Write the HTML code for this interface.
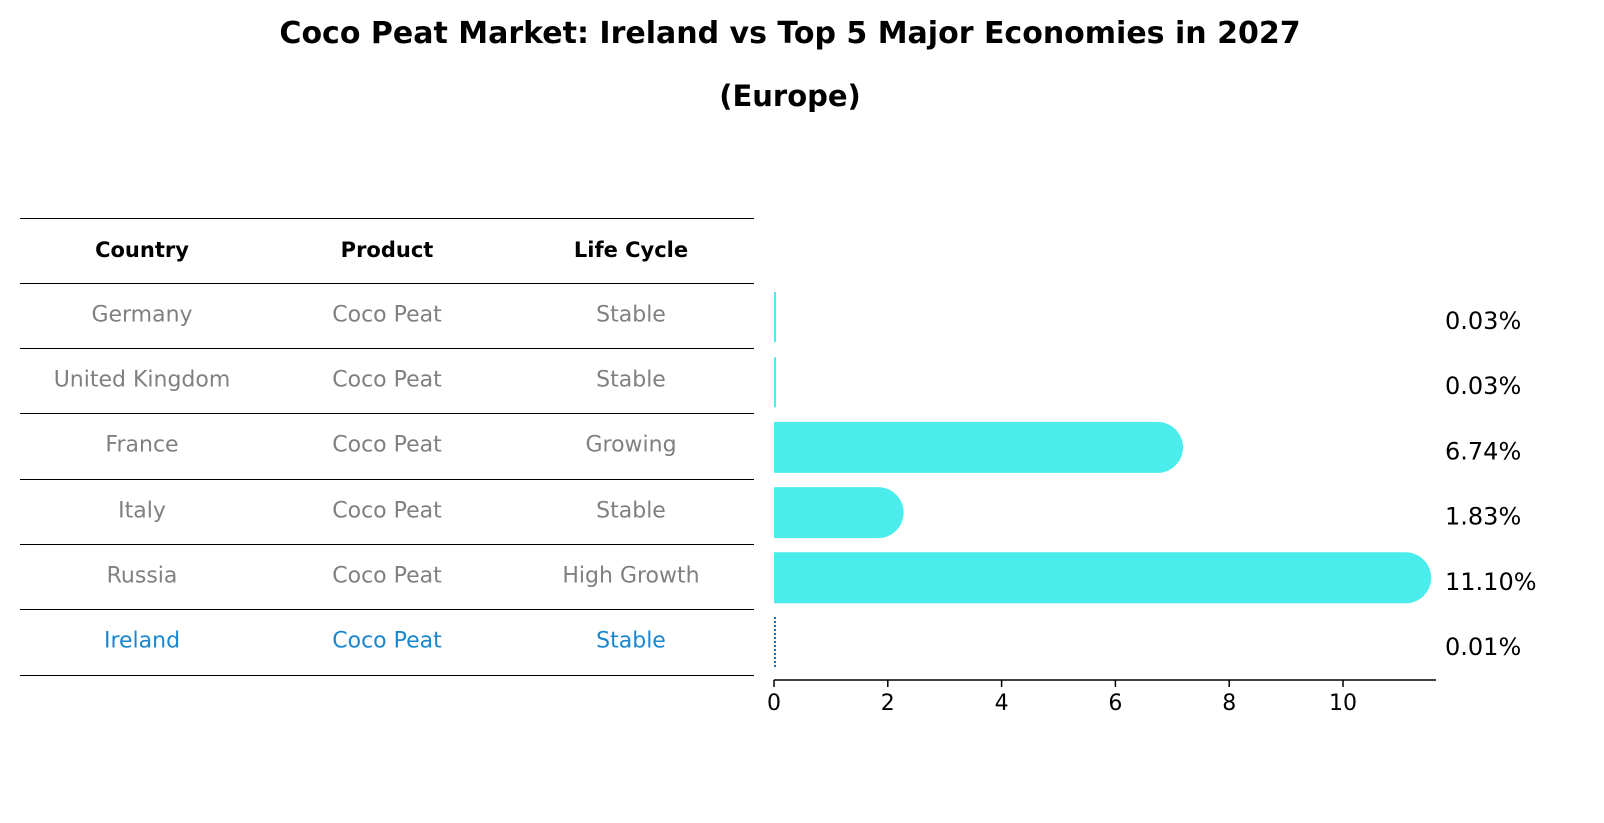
<!DOCTYPE html>
<html><head><meta charset="utf-8">
<style>
body{margin:0;background:#fff;font-family:"DejaVu Sans","Liberation Sans",sans-serif;}
#wrap{position:relative;width:1604px;height:823px;overflow:hidden;}
.t{position:absolute;white-space:nowrap;}
.title{left:0;width:1580px;text-align:center;font-weight:bold;}
.hline{position:absolute;left:20px;width:734px;height:1px;background:#000;}
.cell{position:absolute;width:240px;text-align:center;font-size:22px;color:#808080;transform:translateY(-50%);white-space:nowrap;}
.hdr{font-weight:bold;color:#000;font-size:21px;}
.irl{color:#1a86d0;}
</style></head><body>
<div id="wrap">
<div class="t title" style="top:16px;font-size:30px;">Coco Peat Market: Ireland vs Top 5 Major Economies in 2027</div>
<div class="t title" style="top:79px;font-size:29px;">(Europe)</div>
<div id="table"></div>
<svg id="svg" width="1604" height="823" style="position:absolute;left:0;top:0"></svg>
</div>
<script>
const countries=["Germany","United Kingdom","France","Italy","Russia","Ireland"];
const products=["Coco Peat","Coco Peat","Coco Peat","Coco Peat","Coco Peat","Coco Peat"];
const lifeCycles=["Stable","Stable","Growing","Stable","High Growth","Stable"];
const values=[0.03,0.03,6.74,1.83,11.10,0.01];
const valueLabels=["0.03%","0.03%","6.74%","1.83%","11.10%","0.01%"];
const ticks=[0,2,4,6,8,10];

const wrap=document.getElementById('table');
const lines=[218,283,348,413,479,544,609,675];
lines.forEach((y,i)=>{const d=document.createElement('div');d.className='hline';d.style.top=y+'px';


wrap.appendChild(d);});
const colX=[142,387,631];
function cell(txt,x,y,cls,name){const d=document.createElement('div');d.className='cell '+cls;d.textContent=txt;d.style.left=(x-120)+'px';d.style.top=y+'px';


wrap.appendChild(d);}
["Country","Product","Life Cycle"].forEach((h,i)=>cell(h,colX[i],250,'hdr','header-'+h.toLowerCase().replace(' ','-')));
countries.forEach((c,i)=>{const y=315+i*65.2;const cls=c==="Ireland"?'irl':'';
cell(c,colX[0],y,cls,'country-cell');cell(products[i],colX[1],y,cls,'product-cell');cell(lifeCycles[i],colX[2],y,cls,'lifecycle-cell');});

const svg=document.getElementById('svg');const NS='http://www.w3.org/2000/svg';
const x0=774,pxPer=56.9;const xs=v=>x0+v*pxPer;
const rowY=i=>317+i*65.2;const bh=51;
function el(t,a,name){const e=document.createElementNS(NS,t);for(const k in a)e.setAttribute(k,a[k]);


svg.appendChild(e);return e;}
values.forEach((v,i)=>{const yc=rowY(i);
if(countries[i]==="Ireland"){el('line',{x1:xs(0)+1,x2:xs(0)+1,y1:yc-26,y2:yc+26,stroke:'#1a6fb0','stroke-width':2,'stroke-dasharray':'2,2'},'bar-ireland');}
else if(v<0.5){el('line',{x1:xs(0)+1,x2:xs(0)+1,y1:yc-25,y2:yc+25,stroke:'#4aecec','stroke-width':2},'bar-'+countries[i].toLowerCase().replace(' ','-'));}
else{const w=xs(v)-x0;const r=bh/2;
el('path',{d:`M${x0},${yc-r} H${x0+w} A${r},${r} 0 0 1 ${x0+w},${yc+r} H${x0} Z`,fill:'#4aecec'},'bar-'+countries[i].toLowerCase());}
const t=el('text',{x:1445,y:yc+12,'font-size':24,fill:'#000','font-family':'DejaVu Sans, sans-serif'},'value-label');t.textContent=valueLabels[i];});
el('line',{x1:x0,x2:1436,y1:680,y2:680,stroke:'#000','stroke-width':1.5},'x-axis');
ticks.forEach(t=>{el('line',{x1:xs(t),x2:xs(t),y1:680,y2:687,stroke:'#000','stroke-width':1.5},'x-tick');
const tx=el('text',{x:xs(t),y:710,'font-size':22,'text-anchor':'middle',fill:'#000','font-family':'DejaVu Sans, sans-serif'},'x-tick-label');tx.textContent=t;});
</script>
</body></html>
